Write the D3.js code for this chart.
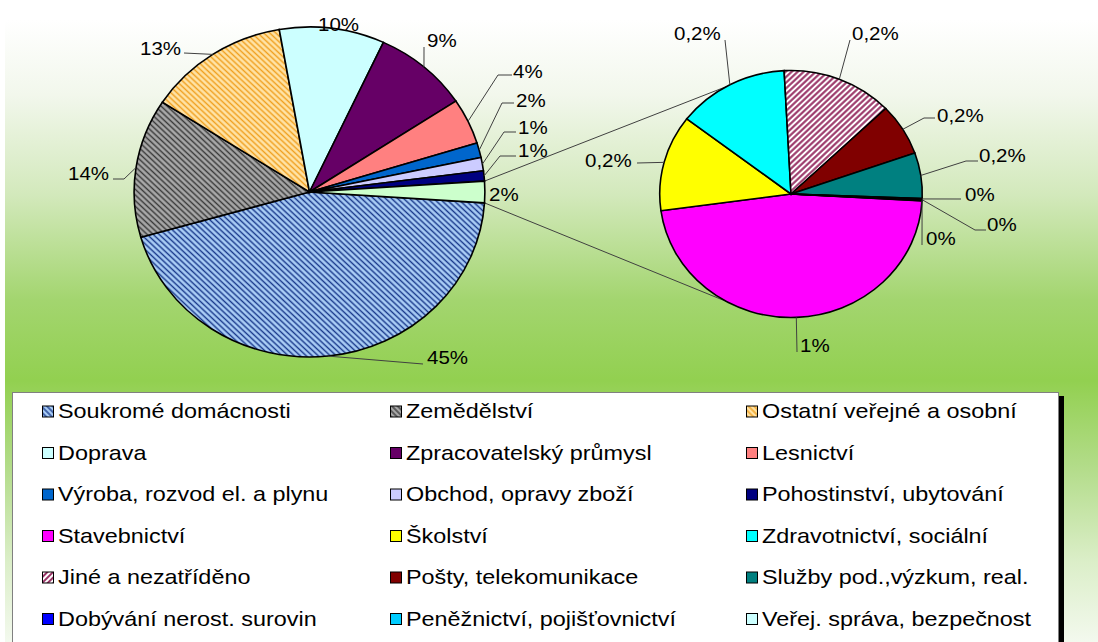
<!DOCTYPE html>
<html><head><meta charset="utf-8">
<script src="https://cdn.jsdelivr.net/npm/d3@7"></script>
<style>
html,body{margin:0;padding:0;background:#fff;}
svg{display:block;}
text{font-family:"Liberation Sans",Arial,sans-serif;fill:#000;}
</style></head>
<body>
<svg id="chart" width="1098" height="642"></svg>
<script>
// ---- data ----
const mainCats = ["Soukromé domácnosti","Zemědělství","Ostatní veřejné a osobní","Doprava","Zpracovatelský průmysl","Lesnictví","Výroba, rozvod el. a plynu","Obchod, opravy zboží","Pohostinství, ubytování"];
const mainVals = [44.6,13.6,13.1,9.7,8.8,4.5,1.45,1.3,1.0];
const mainLabels = ["45%","14%","13%","10%","9%","4%","2%","1%","1%"];
const otherLabel = "2%";
const subCats = ["Stavebnictví","Školství","Zdravotnictví, sociální","Jiné a nezatříděno","Pošty, telekomunikace","Služby pod.,výzkum, real.","Dobývání nerost. surovin","Peněžnictví, pojišťovnictví","Veřej. správa, bezpečnost"];
const subVals = [0.99,0.265,0.29,0.288,0.143,0.126,0.002,0.002,0.002];
const subLabels = ["1%","0,2%","0,2%","0,2%","0,2%","0,2%","0%","0%","0%"];

// ---- styles ----
const fills = {
 "Soukromé domácnosti":"url(#pSouk)","Zemědělství":"url(#pZem)","Ostatní veřejné a osobní":"url(#pOst)",
 "Doprava":"#CCFFFF","Zpracovatelský průmysl":"#660066","Lesnictví":"#FF8080",
 "Výroba, rozvod el. a plynu":"#0066CC","Obchod, opravy zboží":"#CCCCFF","Pohostinství, ubytování":"#000080",
 "Other":"#CCFFCC","Stavebnictví":"#FF00FF","Školství":"#FFFF00","Zdravotnictví, sociální":"#00FFFF",
 "Jiné a nezatříděno":"url(#pJine)","Pošty, telekomunikace":"#800000","Služby pod.,výzkum, real.":"#008080",
 "Dobývání nerost. surovin":"#0000FF","Peněžnictví, pojišťovnictví":"#00CCFF","Veřej. správa, bezpečnost":"#CCFFFF"
};
const LABEL_FS = 19, LABEL_SX = 1.08;
const LEG_FS = 20, LEG_SX = 1.17;
const SX = 1.063;

const svg = d3.select("#chart");
const defs = svg.append("defs");
// background gradient
const g1 = defs.append("linearGradient").attr("id","bg").attr("x1",0).attr("y1",0).attr("x2",0).attr("y2",1);
[[0,"#ffffff"],[0.12,"#f2f7ec"],[0.28,"#d3e9bc"],[0.45,"#a3d56f"],[0.58,"#92d050"],[0.72,"#b3dc8a"],[0.87,"#dbeec8"],[1,"#f3f9ee"]]
 .forEach(([o,c])=>g1.append("stop").attr("offset",o).attr("stop-color",c));
function hatch(id,bg,fg,w,sp,ang){
  const p=defs.append("pattern").attr("id",id).attr("patternUnits","userSpaceOnUse")
    .attr("width",sp).attr("height",sp).attr("patternTransform",`rotate(${ang})`);
  p.append("rect").attr("width",sp).attr("height",sp).attr("fill",bg);
  p.append("line").attr("x1",sp/2).attr("y1",0).attr("x2",sp/2).attr("y2",sp).attr("stroke",fg).attr("stroke-width",w);
}
hatch("pSouk","#a9cdf5","#1a3a8c",1.4,4,-45);
hatch("pZem","#a8a8a8","#3a3a3a",1.4,4,-45);
hatch("pOst","#ffe3a6","#f0a020",1.4,4,-45);
hatch("pJine","#ffffff","#993366",2,4,45);

svg.append("rect").attr("x",5).attr("y",20).attr("width",1093).attr("height",622).attr("fill","url(#bg)");

function txt(sel,s,x,y,fs,sx,anchor){
  return sel.append("text").attr("transform",`translate(${x},${y}) scale(${sx},1)`)
    .attr("font-size",fs).attr("dominant-baseline","central").attr("text-anchor",anchor||"start").text(s);
}

// ---- main pie ----
const mainC = {x:309.5,y:192,r:165};
const subC = {x:791,y:194,r:123.5};
const otherTotal = d3.sum(subVals);
const total = d3.sum(mainVals)+otherTotal;
const otherAng = otherTotal/total*2*Math.PI;
const mainData = mainCats.map((c,i)=>({c,v:mainVals[i],lab:mainLabels[i]})).concat([{c:"Other",v:otherTotal,lab:otherLabel}]);
const s0 = Math.PI/2 + otherAng/2;
const mainArcs = d3.pie().sort(null).value(d=>d.v).startAngle(s0).endAngle(s0+2*Math.PI)(mainData);
const arcM = d3.arc().innerRadius(0).outerRadius(mainC.r);
function pt(C,a,rr){ const r=rr||C.r; return [C.x+SX*r*Math.sin(a), C.y - r*Math.cos(a)]; }

// connector lines
const other = mainArcs[mainArcs.length-1];
const subData = subCats.map((c,i)=>({c,v:subVals[i],lab:subLabels[i]}));
const subStart = Math.PI/2 + 0.055;
const subArcs = d3.pie().sort(null).value(d=>d.v).startAngle(subStart).endAngle(subStart+2*Math.PI)(subData);
const arcS = d3.arc().innerRadius(0).outerRadius(subC.r);
const conn = svg.append("g").attr("stroke","#404040").attr("stroke-width",1).attr("fill","none");
const connAng = 0.335*Math.PI; // angle from 9 o'clock on second pie
conn.append("line").datum([pt(mainC,other.startAngle),pt(subC,1.5*Math.PI+connAng)])
  .attr("x1",d=>d[0][0]).attr("y1",d=>d[0][1]).attr("x2",d=>d[1][0]).attr("y2",d=>d[1][1]);
conn.append("line").datum([pt(mainC,other.endAngle),pt(subC,1.5*Math.PI-connAng)])
  .attr("x1",d=>d[0][0]).attr("y1",d=>d[0][1]).attr("x2",d=>d[1][0]).attr("y2",d=>d[1][1]);

const gm = svg.append("g").attr("transform",`translate(${mainC.x},${mainC.y}) scale(${SX},1)`);
gm.selectAll("path").data(mainArcs).join("path").attr("d",arcM)
  .attr("fill",d=>fills[d.data.c]).attr("stroke","#000").attr("stroke-width",1.6).attr("vector-effect","non-scaling-stroke");
const gs = svg.append("g").attr("transform",`translate(${subC.x},${subC.y}) scale(${SX},1)`);
gs.selectAll("path").data(subArcs).join("path").attr("d",arcS)
  .attr("fill",d=>fills[d.data.c]).attr("stroke","#000").attr("stroke-width",1.6).attr("vector-effect","non-scaling-stroke");

// ---- labels (layout: text left x, center y, leader bend points) ----
const mainLay = [
 {x:427,y:357,bend:[[423,364]]},
 {x:68,y:173,bend:[[124,179],[113,179]]},
 {x:140,y:48,bend:[[184,53]]},
 {x:318,y:24,bend:null},
 {x:427,y:40,bend:[[424,47]]},
 {x:513,y:71,bend:[[498,75],[512,75]]},
 {x:516,y:100,bend:[[502,103],[514,103]]},
 {x:518,y:127,bend:[[504,132],[516,132]]},
 {x:518,y:150,bend:[[500,156],[516,156]]},
 {x:489,y:194,bend:null}
];
const subLay = [
 {x:800,y:345,bend:[[797,352]]},
 {x:585,y:160,bend:[[637,163]]},
 {x:674,y:33,bend:[[725,40]]},
 {x:852,y:33,bend:[[850,40]]},
 {x:937,y:115,bend:[[924,118],[935,118]]},
 {x:979,y:155,bend:[[966,161],[978,161]]},
 {x:965,y:194,bend:[[961,199]]},
 {x:987,y:224,bend:[[975,230],[986,230]]},
 {x:926,y:238,bend:[[922,245]]}
];
const lead = svg.append("g").attr("stroke","#404040").attr("stroke-width",1).attr("fill","none");
const labs = svg.append("g");
function drawLabels(arcs,lay,C){
  arcs.forEach((a,i)=>{
    const L=lay[i]; const mid=(a.startAngle+a.endAngle)/2;
    if(L.bend){ lead.append("path").attr("d",d3.line()([pt(C,mid)].concat(L.bend))); }
    txt(labs,a.data.lab,L.x,L.y,LABEL_FS,LABEL_SX);
  });
}
drawLabels(mainArcs,mainLay,mainC);
drawLabels(subArcs,subLay,subC);

// ---- legend ----
svg.append("rect").attr("x",1059).attr("y",396).attr("width",5).attr("height",250).attr("fill","#000");
svg.append("rect").attr("x",12.5).attr("y",392.5).attr("width",1046).attr("height",260).attr("fill","#fff").attr("stroke","#808080").attr("stroke-width",1);
const legItems = mainCats.concat(subCats);
const colX=[42,390,746], row0=411.5, rowH=41.5;
const lg = svg.append("g");
legItems.forEach((c,i)=>{
  const col=i%3,row=Math.floor(i/3);
  const x=colX[col], y=row0+row*rowH;
  lg.append("rect").attr("x",x+0.5).attr("y",y-5.5).attr("width",11).attr("height",11).attr("fill",fills[c]).attr("stroke","#000").attr("stroke-width",1);
  txt(lg,c,x+16,y,LEG_FS,LEG_SX);
});
</script>
</body></html>
